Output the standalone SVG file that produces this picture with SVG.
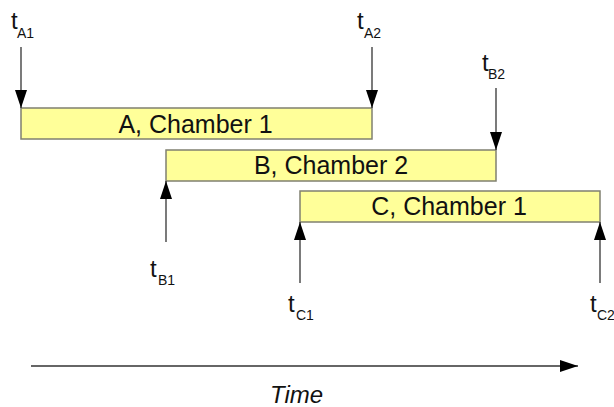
<svg xmlns="http://www.w3.org/2000/svg" width="614" height="407" viewBox="0 0 614 407">
<style>
.box{fill:#ffff99;stroke:#808070;stroke-width:1.5}
.lbl{font-family:"Liberation Sans",Arial,sans-serif;font-size:25px;fill:#111}
.tm{font-family:"Liberation Sans",Arial,sans-serif;font-size:24px;fill:#111;font-style:italic}
.t{font-family:"Liberation Sans",Arial,sans-serif;font-size:24px;fill:#111}
.sub{font-size:14px}
.ln{stroke:#333;stroke-width:1.3;fill:none}
</style>
<defs>
<marker id="ah" markerWidth="18" markerHeight="12" refX="18" refY="6" orient="auto" markerUnits="userSpaceOnUse">
<path d="M0,0 L18,6 L0,12 Z" fill="#000"/>
</marker>
</defs>
<rect width="614" height="407" fill="#fff"/>
<g id="boxA"><rect class="box" x="21" y="108" width="351" height="31"/><text class="lbl" x="195.5" y="133" text-anchor="middle">A, Chamber 1</text></g>
<g id="boxB"><rect class="box" x="166" y="150" width="330" height="31"/><text class="lbl" x="331" y="174" text-anchor="middle">B, Chamber 2</text></g>
<g id="boxC"><rect class="box" x="300" y="191" width="300" height="31"/><text class="lbl" x="449" y="215" text-anchor="middle">C, Chamber 1</text></g>
<g id="connectors">
<line class="ln" x1="21" y1="47" x2="21" y2="108" marker-end="url(#ah)"/>
<line class="ln" x1="372" y1="47" x2="372" y2="108" marker-end="url(#ah)"/>
<line class="ln" x1="496" y1="88" x2="496" y2="150" marker-end="url(#ah)"/>
<line class="ln" x1="166" y1="242" x2="166" y2="181" marker-end="url(#ah)"/>
<line class="ln" x1="300" y1="283" x2="300" y2="222" marker-end="url(#ah)"/>
<line class="ln" x1="600" y1="283" x2="600" y2="222" marker-end="url(#ah)"/>
<line class="ln" x1="31" y1="366" x2="578" y2="366" marker-end="url(#ah)"/>
</g>
<g id="tA1"><text class="t" x="11" y="29">t</text><text class="t sub" x="17" y="38">A1</text></g>
<g id="tA2"><text class="t" x="357" y="29">t</text><text class="t sub" x="364" y="38">A2</text></g>
<g id="tB2"><text class="t" x="482" y="71">t</text><text class="t sub" x="488" y="79">B2</text></g>
<g id="tB1"><text class="t" x="150" y="277">t</text><text class="t sub" x="158" y="285">B1</text></g>
<g id="tC1"><text class="t" x="288" y="312">t</text><text class="t sub" x="296" y="320">C1</text></g>
<g id="tC2"><text class="t" x="590" y="312">t</text><text class="t sub" x="597" y="320">C2</text></g>
<g id="time"><text class="tm" x="296.5" y="403" text-anchor="middle">Time</text></g>
</svg>
